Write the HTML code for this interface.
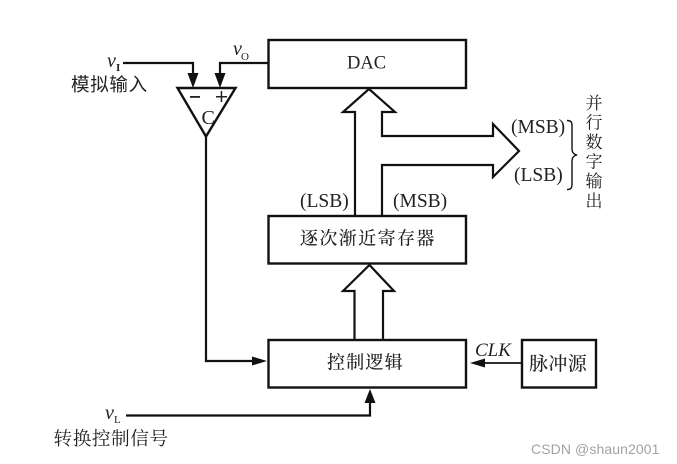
<!DOCTYPE html>
<html>
<head>
<meta charset="utf-8">
<style>
html,body{margin:0;padding:0;background:#fff;width:677px;height:464px;overflow:hidden}
svg{display:block;filter:blur(0.35px)}
text{fill:#222}
.l{font-family:"Liberation Serif",serif;font-size:19.500px}
.c{font-family:"Liberation Serif","Noto Serif CJK SC",serif;font-size:17px}
.i{font-family:"Liberation Serif",serif;font-style:italic}
.s{font-family:"Liberation Serif",serif;font-size:11px}
</style>
</head>
<body>
<svg width="677" height="464" viewBox="0 0 677 464" xmlns="http://www.w3.org/2000/svg">
<rect width="677" height="464" fill="#fff"/>
<g fill="none" stroke="#111" stroke-width="2.200">
<rect x="268.500" y="40" width="197.500" height="48" stroke-width="2.400"/>
<rect x="268.500" y="216" width="197.500" height="47.500" stroke-width="2.400"/>
<rect x="268.500" y="340" width="197.500" height="47.500" stroke-width="2.400"/>
<rect x="522" y="340" width="74" height="47.500" stroke-width="2.400"/>
<path d="M177.500 88H235.500L206 136.500Z" stroke-width="2.400" stroke-linejoin="miter"/>
<path d="M355 215V112H343L369 89L395 112H382V136H493V124L519 151L493 177V165H382V215" stroke-linejoin="miter"/>
<path d="M354.500 339V291H343L369.500 265L394 291H383V339" stroke-linejoin="miter"/>
<path d="M123 63H193V76"/>
<path d="M268 63H220V76"/>
<path d="M206 137V361H254"/>
<path d="M126 415.500H370V400"/>
<path d="M522 363H482" stroke-width="1.800"/>
<path d="M567 120.500C571 120.500 572 122 572 126V148C572 152 573 154 577 155C573 156 572 158 572 162V184C572 188 571 189.500 567 189.500" stroke-width="1.400"/>
</g>
<g fill="#111">
<path d="M187.500 73H198.500L193 88Z"/>
<path d="M214.500 73H225.500L220 88Z"/>
<path d="M252 356.500L267 361L252 365.500Z"/>
<path d="M364.500 403H375.500L370 389Z"/>
<path d="M485 358.500V367.500L470 363Z"/>
</g>
<rect x="190" y="96" width="10" height="1.800" fill="#222"/>
<rect x="216" y="96" width="11" height="1.500" fill="#222"/>
<rect x="220.700" y="91" width="1.500" height="11" fill="#222"/>
<text x="201.500" y="124" class="l" style="font-size:20px">C</text>
<text x="107" y="67" class="i" font-size="20">v</text><text x="116" y="71" class="s" font-weight="bold">I</text>
<text x="233" y="55" class="i" font-size="20">v</text><text x="241" y="60" class="s">O</text>
<text x="105" y="419" class="i" font-size="20">v</text><text x="114" y="423" class="s">L</text>
<text x="71" y="91" class="c" style="font-family:'Liberation Sans','Noto Sans CJK SC',sans-serif;font-size:18.500px;letter-spacing:.7px">模拟输入</text>
<text x="53.500" y="445" class="c" style="letter-spacing:.6px;font-size:18.600px">转换控制信号</text>
<text x="347" y="68.500" class="l" style="font-size:18.500px">DAC</text>
<text x="300" y="244.500" class="c" style="letter-spacing:1.400px;font-size:18px;font-weight:500">逐次渐近寄存器</text>
<text x="327" y="368.500" class="c" style="letter-spacing:1.200px;font-size:18px;font-weight:500">控制逻辑</text>
<text x="529" y="370" class="c" style="letter-spacing:.4px;font-size:19px;font-weight:500">脉冲源</text>
<text x="300" y="207" class="l">(LSB)</text>
<text x="393" y="207" class="l">(MSB)</text>
<text x="511" y="133" class="l">(MSB)</text>
<text x="514" y="181" class="l">(LSB)</text>
<text x="475" y="356" class="i" font-size="19">CLK</text>
<g class="c" text-anchor="middle">
<text x="594" y="109" class="c">并</text>
<text x="594" y="128.500" class="c">行</text>
<text x="594" y="148" class="c">数</text>
<text x="594" y="167.500" class="c">字</text>
<text x="594" y="187" class="c">输</text>
<text x="594" y="207" class="c">出</text>
</g>
<text x="531" y="454" style="font-family:'Liberation Sans',sans-serif;font-size:14px;fill:#a3a3a3;letter-spacing:.1px">CSDN @shaun2001</text>
</svg>
</body>
</html>
